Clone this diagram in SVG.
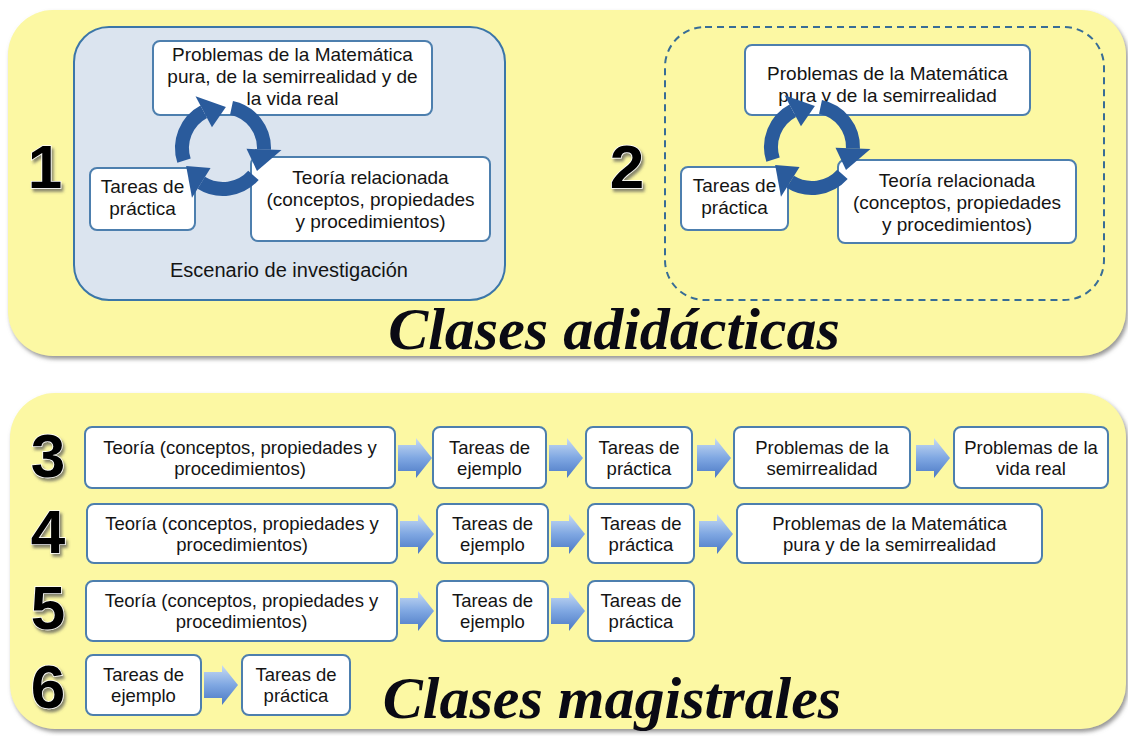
<svg xmlns="http://www.w3.org/2000/svg" xmlns:xlink="http://www.w3.org/1999/xlink" width="1128" height="736" viewBox="0 0 1128 736">
<style>
.panel{fill:#fcf8a3;}
.node rect{fill:#fff;stroke:#4d7fae;stroke-width:2;}
.t{font-family:"Liberation Sans",Arial,sans-serif;font-size:18.5px;fill:#141414;text-anchor:middle;}
.t2{font-family:"Liberation Sans",Arial,sans-serif;font-size:19px;fill:#141414;text-anchor:middle;}
.num{font-family:"Liberation Sans",Arial,sans-serif;font-weight:bold;font-size:62px;fill:#000;stroke:#fff;stroke-width:1.5;paint-order:stroke;text-anchor:middle;}
.title{font-family:"Liberation Serif","Times New Roman",serif;font-weight:bold;font-style:italic;font-size:60px;fill:#0a0a14;text-anchor:middle;}
.ring{fill:none;stroke:#2a5b9c;stroke-width:14;}
.ringhead{fill:#2a5b9c;}
.barrow{fill:url(#bg);}
</style>
<defs>
<filter id="sh" x="-5%" y="-5%" width="112%" height="115%">
<feDropShadow dx="2" dy="3" stdDeviation="2" flood-color="#7a7a7a" flood-opacity="0.8"/>
</filter>
<filter id="nsh" x="-30%" y="-30%" width="170%" height="170%">
<feDropShadow dx="2" dy="3" stdDeviation="1.5" flood-color="#555" flood-opacity="0.7"/>
</filter>
<linearGradient id="bg" x1="0" y1="0" x2="0" y2="1">
<stop offset="0" stop-color="#c9dcf4"/>
<stop offset="0.5" stop-color="#7fa7e2"/>
<stop offset="1" stop-color="#4a78c4"/>
</linearGradient>
<g id="seg">
<path class="ring" d="M8.52,-40.10 A41,41 0 0 1 40.98,1.43"/>
<polygon class="ringhead" points="23.5,0.82 58.5,2.04 33.99,22.93"/>
</g>
<path id="ba" class="barrow" d="M0,-13 H18 V-20 L34,0 L18,20 V13 H0 Z"/>
</defs>

<!-- panels -->
<rect class="panel" x="8" y="10" width="1118" height="346" rx="45" filter="url(#sh)"/>
<rect class="panel" x="10" y="393" width="1116" height="336" rx="45" filter="url(#sh)"/>

<!-- top left scenario -->
<g id="escenario">
<rect x="74" y="27" width="431" height="273" rx="35" fill="#dbe4ef" stroke="#3b76a8" stroke-width="2"/>
<text class="t2" x="289" y="277" style="font-size:20px">Escenario de investigación</text>
</g>
<g id="grupo2">
<rect x="665" y="27" width="439" height="273" rx="40" fill="none" stroke="#386d96" stroke-width="2" stroke-dasharray="7 5"/>
</g>

<text class="num" x="45" y="188" filter="url(#nsh)">1</text>
<text class="num" x="627" y="188" filter="url(#nsh)">2</text>
<text class="num" x="48" y="477" filter="url(#nsh)">3</text>
<text class="num" x="48" y="553" filter="url(#nsh)">4</text>
<text class="num" x="48" y="629" filter="url(#nsh)">5</text>
<text class="num" x="48" y="708" filter="url(#nsh)">6</text>

<!-- cycle 1 nodes -->
<g id="n1-problemas" class="node">
<rect x="153" y="41" width="279" height="74" rx="7"/>
<text class="t2" x="292.5" y="61">Problemas de la Matemática</text>
<text class="t2" x="292.5" y="83">pura, de la semirrealidad y de</text>
<text class="t2" x="292.5" y="105">la vida real</text>
</g>
<g id="n1-tareas" class="node">
<rect x="90" y="168" width="105" height="62" rx="7"/>
<text class="t2" x="142.5" y="193">Tareas de</text>
<text class="t2" x="142.5" y="215">práctica</text>
</g>
<g id="n1-teoria" class="node">
<rect x="251" y="157" width="239" height="84" rx="7"/>
<text class="t2" x="370.5" y="184">Teoría relacionada</text>
<text class="t2" x="370.5" y="206">(conceptos, propiedades</text>
<text class="t2" x="370.5" y="228">y procedimientos)</text>
</g>

<!-- cycle 2 nodes -->
<g id="n2-problemas" class="node">
<rect x="745" y="45" width="285" height="70" rx="7"/>
<text class="t2" x="887.5" y="80">Problemas de la Matemática</text>
<text class="t2" x="887.5" y="102">pura y de la semirrealidad</text>
</g>
<g id="n2-tareas" class="node">
<rect x="681" y="167" width="107" height="63" rx="7"/>
<text class="t2" x="734.5" y="192">Tareas de</text>
<text class="t2" x="734.5" y="214">práctica</text>
</g>
<g id="n2-teoria" class="node">
<rect x="838" y="160" width="238" height="83" rx="7"/>
<text class="t2" x="957" y="187">Teoría relacionada</text>
<text class="t2" x="957" y="209">(conceptos, propiedades</text>
<text class="t2" x="957" y="231">y procedimientos)</text>
</g>

<text class="title" x="614" y="349">Clases adidácticas</text>

<!-- row 3 -->
<g id="r3-teoria" class="node"><rect x="85" y="427" width="310" height="61" rx="7"/>
<text class="t" x="240" y="454">Teoría (conceptos, propiedades y</text><text class="t" x="240" y="475">procedimientos)</text></g>
<g id="r3-ejemplo" class="node"><rect x="433" y="427" width="113" height="61" rx="7"/>
<text class="t" x="489.5" y="454">Tareas de</text><text class="t" x="489.5" y="475">ejemplo</text></g>
<g id="r3-practica" class="node"><rect x="586" y="427" width="106" height="61" rx="7"/>
<text class="t" x="639" y="454">Tareas de</text><text class="t" x="639" y="475">práctica</text></g>
<g id="r3-semi" class="node"><rect x="734" y="427" width="176" height="61" rx="7"/>
<text class="t" x="822" y="454">Problemas de la</text><text class="t" x="822" y="475">semirrealidad</text></g>
<g id="r3-vida" class="node"><rect x="954" y="427" width="154" height="61" rx="7"/>
<text class="t" x="1031" y="454">Problemas de la</text><text class="t" x="1031" y="475">vida real</text></g>

<!-- row 4 -->
<g id="r4-teoria" class="node"><rect x="87" y="504" width="310" height="59" rx="7"/>
<text class="t" x="242" y="530">Teoría (conceptos, propiedades y</text><text class="t" x="242" y="551">procedimientos)</text></g>
<g id="r4-ejemplo" class="node"><rect x="437" y="504" width="111" height="59" rx="7"/>
<text class="t" x="492.5" y="530">Tareas de</text><text class="t" x="492.5" y="551">ejemplo</text></g>
<g id="r4-practica" class="node"><rect x="588" y="504" width="106" height="59" rx="7"/>
<text class="t" x="641" y="530">Tareas de</text><text class="t" x="641" y="551">práctica</text></g>
<g id="r4-problemas" class="node"><rect x="737" y="504" width="305" height="59" rx="7"/>
<text class="t" x="889.5" y="530">Problemas de la Matemática</text><text class="t" x="889.5" y="551">pura y de la semirrealidad</text></g>

<!-- row 5 -->
<g id="r5-teoria" class="node"><rect x="86" y="581" width="311" height="60" rx="7"/>
<text class="t" x="241.5" y="607">Teoría (conceptos, propiedades y</text><text class="t" x="241.5" y="628">procedimientos)</text></g>
<g id="r5-ejemplo" class="node"><rect x="437" y="581" width="111" height="60" rx="7"/>
<text class="t" x="492.5" y="607">Tareas de</text><text class="t" x="492.5" y="628">ejemplo</text></g>
<g id="r5-practica" class="node"><rect x="588" y="581" width="106" height="60" rx="7"/>
<text class="t" x="641" y="607">Tareas de</text><text class="t" x="641" y="628">práctica</text></g>

<!-- row 6 -->
<g id="r6-ejemplo" class="node"><rect x="86" y="655" width="115" height="60" rx="7"/>
<text class="t" x="143.5" y="681">Tareas de</text><text class="t" x="143.5" y="702">ejemplo</text></g>
<g id="r6-practica" class="node"><rect x="242" y="655" width="108" height="60" rx="7"/>
<text class="t" x="296" y="681">Tareas de</text><text class="t" x="296" y="702">práctica</text></g>

<text class="title" x="612" y="718">Clases magistrales</text>

<!-- connectors -->
<g id="connectors">
<use xlink:href="#seg" transform="translate(223,148)"/>
<use xlink:href="#seg" transform="translate(223,148) rotate(120)"/>
<use xlink:href="#seg" transform="translate(223,148) rotate(240)"/>
<use xlink:href="#seg" transform="translate(812,147)"/>
<use xlink:href="#seg" transform="translate(812,147) rotate(120)"/>
<use xlink:href="#seg" transform="translate(812,147) rotate(240)"/>
<use xlink:href="#ba" transform="translate(398,458)"/>
<use xlink:href="#ba" transform="translate(549,458)"/>
<use xlink:href="#ba" transform="translate(697,458)"/>
<use xlink:href="#ba" transform="translate(916,458)"/>
<use xlink:href="#ba" transform="translate(400,534)"/>
<use xlink:href="#ba" transform="translate(551,534)"/>
<use xlink:href="#ba" transform="translate(699,534)"/>
<use xlink:href="#ba" transform="translate(400,611)"/>
<use xlink:href="#ba" transform="translate(551,611)"/>
<use xlink:href="#ba" transform="translate(204,685)"/>
</g>
</svg>
